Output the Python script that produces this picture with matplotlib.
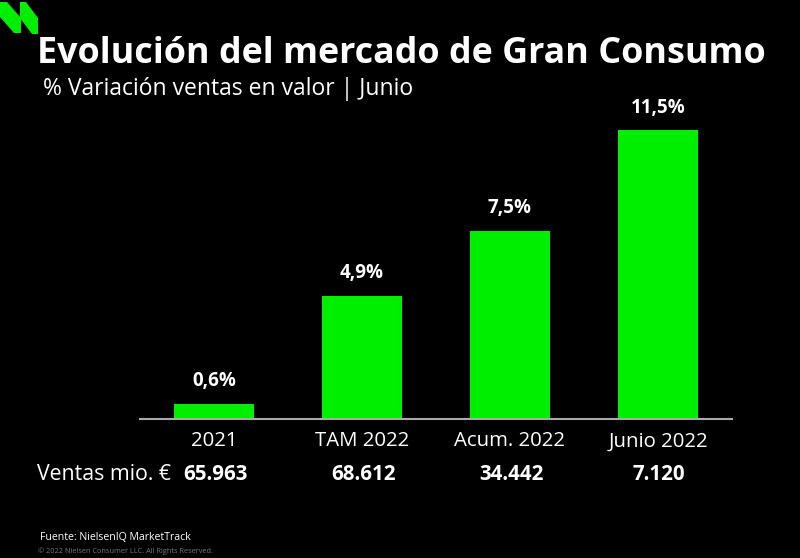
import matplotlib

matplotlib.use("Agg")
import matplotlib.pyplot as plt
from matplotlib.patches import Polygon

categories = ["2021", "TAM 2022", "Acum. 2022", "Junio 2022"]
variation = [0.6, 4.9, 7.5, 11.5]
variation_labels = ["0,6%", "4,9%", "7,5%", "11,5%"]
sales_labels = ["65.963", "68.612", "34.442", "7.120"]

GREEN = "#00EE00"
FONT = "Open Sans"

plt.rcParams["font.family"] = [FONT, "DejaVu Sans"]

fig = plt.figure(figsize=(8, 5.58), dpi=100, facecolor="black")
W, H = 800, 558

# logo in top-left corner (pixel coords -> figure fraction)
for shape in ([(0, 2), (7, 2), (21, 18), (21, 33), (14, 33), (0, 17)],
              [(20, 2), (26, 2), (38, 18), (38, 34), (32, 34), (20, 18)]):
    fig.patches.append(Polygon([(x / W, 1 - y / H) for x, y in shape], closed=True,
                               transform=fig.transFigure, color=GREEN, lw=0))

fig.text(37 / W, 1 - 54 / H, "Evolución del mercado de Gran Consumo", color="white",
         fontsize=25.8, fontweight="bold", va="center", ha="left")
fig.text(43 / W, 1 - 89 / H, "% Variación ventas en valor | Junio", color="white",
         fontsize=16.5, va="center", ha="left")

ax = fig.add_axes([140 / W, 1 - 419 / H, (732 - 140) / W, (419 - 130) / H])
ax.set_facecolor("black")
x = range(len(categories))
bars = ax.bar(x, variation, width=0.535, color=GREEN)
ax.set_xlim(-0.5, 3.5)
ax.set_ylim(0, 11.5)
for b, lab in zip(bars, variation_labels):
    ax.annotate(lab, (b.get_x() + b.get_width() / 2, b.get_height()), xytext=(0, 9),
                textcoords="offset points", ha="center", va="bottom", color="white",
                fontsize=13.5, fontweight="bold", annotation_clip=False)

for s in ["top", "right", "left"]:
    ax.spines[s].set_visible(False)
ax.spines["bottom"].set_color("#aaaaaa")
ax.spines["bottom"].set_linewidth(1.5)
ax.set_yticks([])
ax.set_xticks(list(x))
ax.set_xticklabels(categories, color="white", fontsize=14.7)
ax.tick_params(axis="x", length=0, pad=9)

# sales row under the category labels
fig.text(37 / W, 1 - 474 / H, "Ventas mio. €", color="white", fontsize=15.3,
         va="center", ha="left")
for i, lab in enumerate(sales_labels):
    xf = ax.transData.transform((i, 0))[0] / fig.bbox.width
    fig.text(xf + 1 / W, 1 - 474 / H, lab, color="white", fontsize=14.8, fontweight="bold",
             va="center", ha="center")

fig.text(40 / W, 1 - 537 / H, "Fuente: NielsenIQ MarketTrack", color="white",
         fontsize=7.6, va="center", ha="left")
fig.text(38 / W, 1 - 551 / H, "© 2022 Nielsen Consumer LLC. All Rights Reserved.",
         color="#777777", fontsize=5.3, va="center", ha="left")

fig.savefig("out.png", dpi=100, facecolor="black")
